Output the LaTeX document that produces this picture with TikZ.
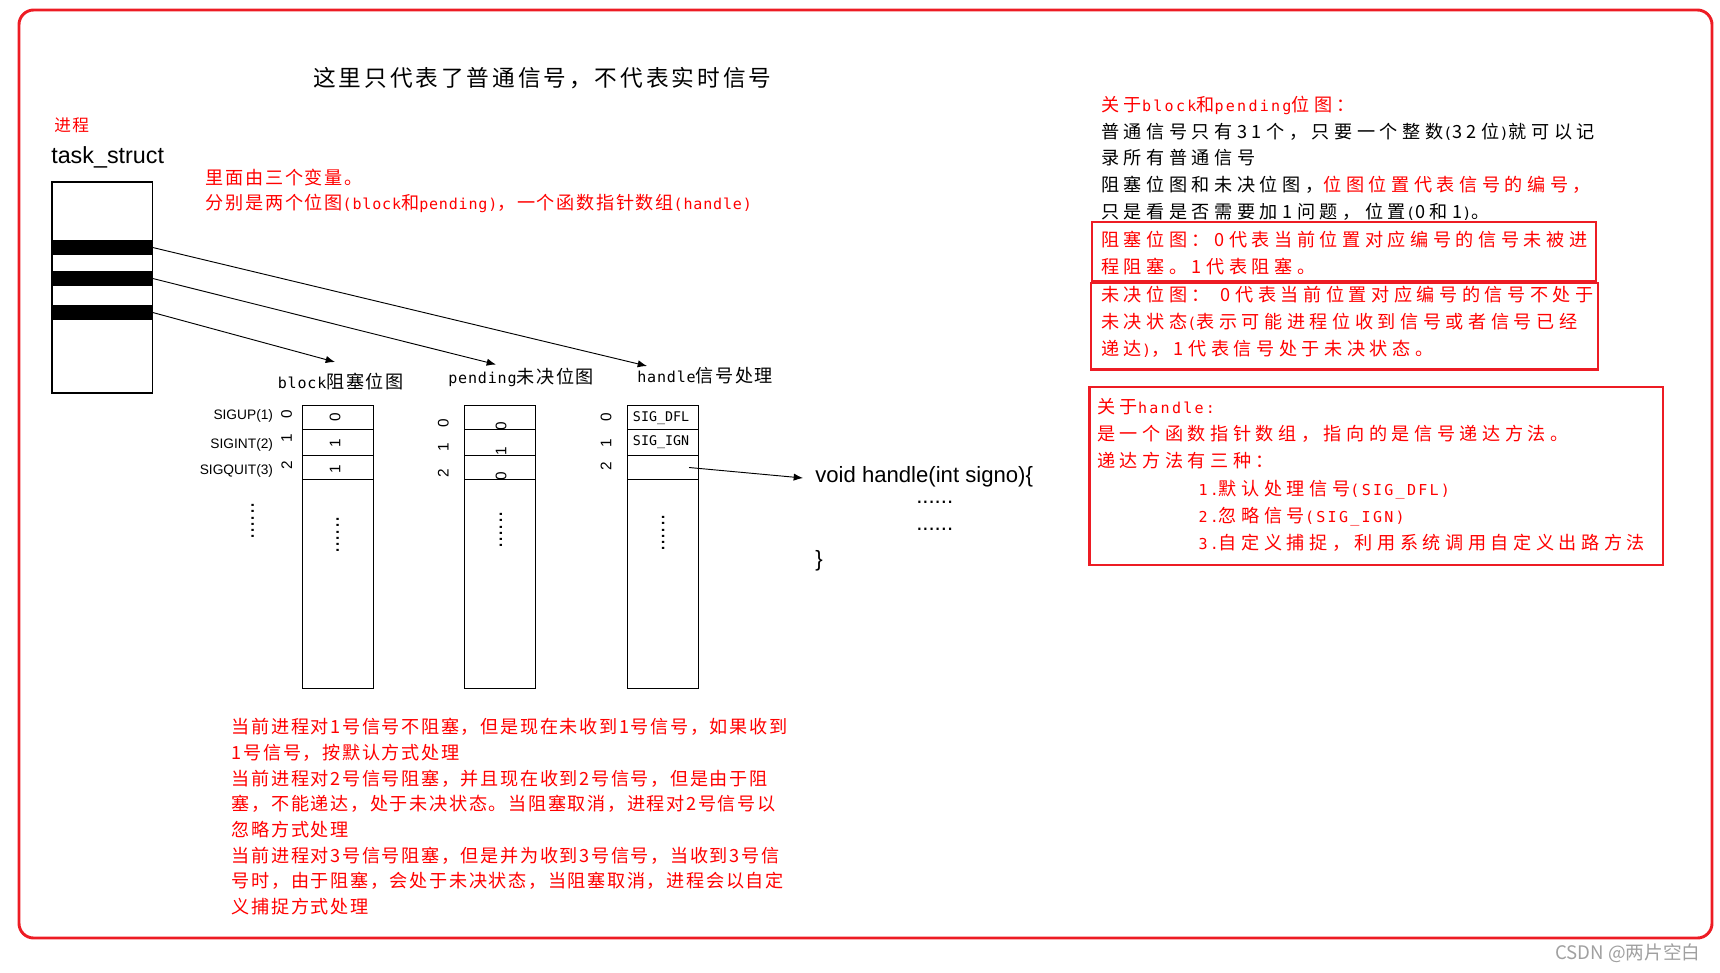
\documentclass[tikz,border=0pt]{standalone}
\usepackage{fontspec}
\setmainfont{Noto Sans CJK SC}
\newfontfamily\cjkA[LetterSpace=9]{Noto Sans CJK SC}
\newfontfamily\cjkB[LetterSpace=25]{Noto Sans CJK SC}
\newfontfamily\cjkT[LetterSpace=13]{Noto Sans CJK SC}
\newfontfamily\monoA[Scale=0.83,LetterSpace=5.4]{DejaVu Sans Mono}
\newfontfamily\monoB[Scale=0.83,LetterSpace=15]{DejaVu Sans Mono}
\newfontfamily\dmono{DejaVu Sans Mono}
\newfontfamily\arialf{Liberation Sans}
\usetikzlibrary{arrows.meta,fit}
\definecolor{boxred}{RGB}{237,28,36}
\definecolor{txtred}{RGB}{255,0,0}
\definecolor{wmgray}{RGB}{160,160,160}
\begin{document}
\begin{tikzpicture}[x=0.75pt,y=-0.75pt,
  arr/.style={-{Latex[length=7pt,width=5.5pt]}, line width=0.7pt},
  cell/.style={draw, line width=0.8pt, inner sep=0pt},
  redbox/.style={draw=boxred, line width=2.2pt, inner sep=0pt},
  txtA/.style={anchor=west, align=left, inner sep=0pt, font=\cjkA\fontsize{13.6}{19.3}\selectfont},
  txtB/.style={anchor=west, align=left, inner sep=0pt, font=\cjkB\fontsize{13.6}{20}\selectfont},
  lbl/.style={anchor=west, inner sep=0pt, font=\cjkA\fontsize{13.6}{16}\selectfont},
  sig/.style={anchor=east, inner sep=0pt, font=\arialf\fontsize{10.3}{12}\selectfont},
  dig/.style={rotate=90, inner sep=0pt, font=\arialf\fontsize{11.5}{13}\selectfont},
  vdots/.style={rotate=90, inner sep=0pt, font=\arialf\fontsize{16.6}{20}\selectfont},
  code/.style={anchor=base west, inner sep=0pt, font=\arialf\fontsize{16.6}{20}\selectfont},
  sigcell/.style={anchor=west, inner sep=0pt, font=\dmono\fontsize{10}{12}\selectfont}]
\useasboundingbox (0,0) rectangle (1720,972);
% outer frame
\node[draw=boxred, line width=2.2pt, rounded corners=11pt, inner sep=0pt, fit={(19,10) (1712,938)}] (frame) {};
% title
\node[anchor=west, inner sep=0pt, font=\cjkT\fontsize{17}{20}\selectfont] (title) at (313,78) {这里只代表了普通信号，不代表实时信号};
% task_struct
\node[anchor=west, inner sep=0pt, text=txtred, font=\cjkA\fontsize{12.5}{15}\selectfont] (proc) at (54,125) {进程};
\node[anchor=base west, inner sep=0pt, font=\arialf\fontsize{17.5}{20}\selectfont] (tsname) at (51,163.5) {task\_struct};
\node[draw, line width=0.8pt, inner sep=0pt, fit={(52,182) (152.5,393)}] (ts) {};
\node[fill=black, inner sep=0pt, fit={(52,240) (152.5,255)}] (bar1) {};
\node[fill=black, inner sep=0pt, fit={(52,271) (152.5,286)}] (bar2) {};
\node[fill=black, inner sep=0pt, fit={(52,305) (152.5,320)}] (bar3) {};
% red note
\node[txtA, text=txtred, font=\cjkA\fontsize{13.6}{19.1}\selectfont] (note) at (205.7,190.7) {里面由三个变量。\\分别是两个位图{\monoA(block}和{\monoA pending)}，一个函数指针数组{\monoA(handle)}};
% arrow targets
\coordinate (tipB) at (335,362);
\coordinate (tipP) at (496,364.5);
\coordinate (tipH) at (647,366);
\draw[arr] (bar1.east) -- (tipH);
\draw[arr] (bar2.east) -- (tipP);
\draw[arr] (bar3.east) -- (tipB);
% column labels
\node[lbl] (labB) at (277.6,382) {{\monoA block}阻塞位图};
\node[lbl] (labP) at (448,377) {{\monoA pending}未决位图};
\node[lbl] (labH) at (637,376) {{\monoA handle}信号处理};
% columns
\foreach \n/\xa/\xb in {B/302.5/373.3, P/464.3/535.1, H/627.8/698.5} {
  \node[cell, fit={(\xa,405.7) (\xb,429.3)}] (\n0) {};
  \node[cell, fit={(\xa,429.3) (\xb,455.7)}] (\n1) {};
  \node[cell, fit={(\xa,455.7) (\xb,479.3)}] (\n2) {};
  \node[cell, fit={(\xa,479.3) (\xb,688.3)}] (\n3) {};
}
% signal names
\node[sig] (s1) at (273.3,415.7) {SIGUP(1)};
\node[sig] (s2) at (273.3,445) {SIGINT(2)};
\node[sig] (s3) at (273.3,471) {SIGQUIT(3)};
% indices
\node[dig] (iB0) at (286.7,414.3) {0};
\node[dig] (iB1) at (286.7,438.3) {1};
\node[dig] (iB2) at (286.7,465) {2};
\node[dig] (iP0) at (443.3,423.3) {0};
\node[dig] (iP1) at (443.3,447.7) {1};
\node[dig] (iP2) at (443.3,473.3) {2};
\node[dig] (iH0) at (606,417.7) {0};
\node[dig] (iH1) at (606,443.3) {1};
\node[dig] (iH2) at (606,466.7) {2};
% cell values
\node[dig] (vB0) at (335,417.7) {0};
\node[dig] (vB1) at (335,443.3) {1};
\node[dig] (vB2) at (335,469) {1};
\node[dig] (vP0) at (501,426) {0};
\node[dig] (vP1) at (501,451.7) {1};
\node[dig] (vP2) at (501,476) {0};
\node[sigcell] (vH0) at (632.7,417.7) {SIG\_DFL};
\node[sigcell] (vH1) at (632.7,441.7) {SIG\_IGN};
% vertical dots
\node[vdots] (dS) at (252.7,521) {......};
\node[vdots] (dB) at (337.7,535) {......};
\node[vdots] (dP) at (501,530) {......};
\node[vdots] (dH) at (663.3,533) {......};
% handler function
\node[code] (fn) at (815,482.8) {void handle(int signo)\{};
\node[code] (fd1) at (916,503) {......};
\node[code] (fd2) at (916,530.5) {......};
\node[code] (fe) at (815,566) {\}};
\coordinate (vin) at (803,478);
\draw[arr] ([xshift=-7.5pt]H2.east) -- (vin);
% bottom notes
\node[txtA, text=txtred] (expl) at (231.6,816.7) {当前进程对1号信号不阻塞，但是现在未收到1号信号，如果收到\\1号信号，按默认方式处理\\当前进程对2号信号阻塞，并且现在收到2号信号，但是由于阻\\塞，不能递达，处于未决状态。当阻塞取消，进程对2号信号以\\忽略方式处理\\当前进程对3号信号阻塞，但是并为收到3号信号，当收到3号信\\号时，由于阻塞，会处于未决状态，当阻塞取消，进程会以自定\\义捕捉方式处理};
% right panel
\node[txtB] (rp) at (1101,158.3) {{\color{txtred}关于{\monoB block}和{\monoB pending}位图：}\\普通信号只有31个，只要一个整数{\monoB(}32位{\monoB)}就可以记\\录所有普通信号\\阻塞位图和未决位图，{\color{txtred}位图位置代表信号的编号，}\\只是看是否需要加1问题，位置{\monoB(}0和1{\monoB)}。};
\node[redbox, fit={(1092,222) (1596,281.5)}] (rb1) {};
\node[txtB, text=txtred] (rt1) at (1101,253.3) {阻塞位图：0代表当前位置对应编号的信号未被进\\程阻塞。1代表阻塞。};
\node[redbox, fit={(1091,283) (1598,369.7)}] (rb2) {};
\node[txtB, text=txtred] (rt2) at (1101,321.7) {未决位图：\hspace{8pt}0代表当前位置对应编号的信号不处于\\未决状态{\monoB(}表示可能进程位收到信号或者信号已经\\递达{\monoB)}，1代表信号处于未决状态。};
\node[redbox, fit={(1089.5,387) (1663,565)}] (rb3) {};
\node[txtB, text=txtred, font=\cjkB\fontsize{13.6}{20.5}\selectfont] (rt3) at (1097,475) {关于{\monoB handle:}\\是一个函数指针数组，指向的是信号递达方法。\\递达方法有三种：\\\hspace*{76pt}{\monoB 1.}默认处理信号{\monoB(SIG\_DFL)}\\\hspace*{76pt}{\monoB 2.}忽略信号{\monoB(SIG\_IGN)}\\\hspace*{76pt}{\monoB 3.}自定义捕捉，利用系统调用自定义出路方法};
% watermark
\node[anchor=west, inner sep=0pt, text=wmgray, font=\fontsize{14}{16}\selectfont] (wm) at (1555,953) {CSDN @两片空白};
\end{tikzpicture}
\end{document}
